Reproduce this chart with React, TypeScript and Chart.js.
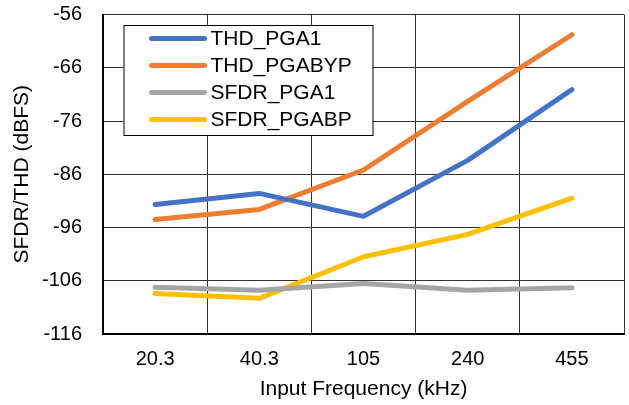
import React, { useEffect, useRef } from "react";
import { Chart, registerables } from "chart.js";

Chart.register(...registerables);

const categories = ["20.3", "40.3", "105", "240", "455"];
const thdPga1 = [-91.7, -89.6, -93.9, -83.4, -70.1];
const thdPgaByp = [-94.5, -92.6, -85.2, -72.3, -59.8];
const sfdrPga1 = [-107.2, -107.8, -106.5, -107.8, -107.3];
const sfdrPgaBp = [-108.4, -109.3, -101.5, -97.3, -90.5];
const seriesNames = ["THD_PGA1", "THD_PGABYP", "SFDR_PGA1", "SFDR_PGABP"];
const seriesColors = ["#4472C4", "#ED7D31", "#A5A5A5", "#FFC000"];

const FONT = "'Liberation Sans', Arial, sans-serif";

const legendPlugin = {
  id: "boxLegend",
  afterDraw(chart: any) {
    const ctx = chart.ctx;
    const ca = chart.chartArea;
    const x0 = ca.left + 20.5;
    const y0 = ca.top + 10.5;
    const w = 249;
    const h = 110;
    ctx.save();
    ctx.fillStyle = "#ffffff";
    ctx.fillRect(x0, y0, w, h);
    ctx.strokeStyle = "#000000";
    ctx.lineWidth = 1;
    ctx.strokeRect(x0 + 0.5, y0 + 0.5, w, h);
    ctx.font = "21px " + FONT;
    ctx.textBaseline = "middle";
    ctx.textAlign = "left";
    chart.data.datasets.forEach((ds: any, i: number) => {
      const y = y0 + 13.5 + i * 27;
      ctx.strokeStyle = ds.borderColor;
      ctx.lineWidth = 5;
      ctx.lineCap = "round";
      ctx.beginPath();
      ctx.moveTo(x0 + 28, y);
      ctx.lineTo(x0 + 81, y);
      ctx.stroke();
      ctx.fillStyle = "#000000";
      ctx.fillText(ds.label, x0 + 87, y + 1);
    });
    ctx.restore();
  },
};

export default function App() {
  const ref = useRef<HTMLCanvasElement>(null);
  useEffect(() => {
    if (!ref.current) return;
    const data = [thdPga1, thdPgaByp, sfdrPga1, sfdrPgaBp];
    const chart = new Chart(ref.current, {
      type: "line",
      data: {
        labels: categories,
        datasets: data.map((d, i) => ({
          label: seriesNames[i],
          data: d,
          borderColor: seriesColors[i],
          backgroundColor: seriesColors[i],
          borderWidth: 5,
          pointRadius: 0,
          tension: 0,
          borderCapStyle: "round" as const,
          borderJoinStyle: "round" as const,
        })),
      },
      options: {
        animation: false,
        responsive: false,
        maintainAspectRatio: false,
        devicePixelRatio: 1,
        layout: { padding: { top: 14.5, right: 5, left: 0, bottom: 3 } },
        plugins: { legend: { display: false }, tooltip: { enabled: false } },
        scales: {
          x: {
            offset: true,
            grid: { color: "#333333", lineWidth: 1, drawTicks: false, offset: true },
            border: { color: "#000000", width: 2 },
            ticks: { color: "#000000", font: { family: FONT, size: 20 }, padding: 13 },
            title: {
              display: true,
              text: "Input Frequency (kHz)",
              color: "#000000",
              font: { family: FONT, size: 21 },
              padding: { top: 0, bottom: 0 },
            },
            afterFit: (s: any) => {
              s.height = 68;
              s.paddingLeft = 0;
              s.paddingRight = 0;
            },
          },
          y: {
            min: -116,
            max: -56,
            grid: { color: "#333333", lineWidth: 1, drawTicks: false },
            border: { color: "#000000", width: 2 },
            ticks: { stepSize: 10, color: "#000000", font: { family: FONT, size: 20 }, padding: 21 },
            title: {
              display: true,
              text: "SFDR/THD (dBFS)",
              color: "#000000",
              font: { family: FONT, size: 21 },
              padding: { top: 10, bottom: 0 },
            },
            afterFit: (s: any) => {
              s.width = 103;
              s.paddingTop = 0;
              s.paddingBottom = 0;
            },
          },
        },
      },
      plugins: [legendPlugin],
    });
    return () => chart.destroy();
  }, []);
  return (
    <div style={{ position: "fixed", left: 0, top: 0, width: 629, height: 405, background: "#fff" }}>
      <canvas ref={ref} width={629} height={405} style={{ width: 629, height: 405 }} />
    </div>
  );
}
